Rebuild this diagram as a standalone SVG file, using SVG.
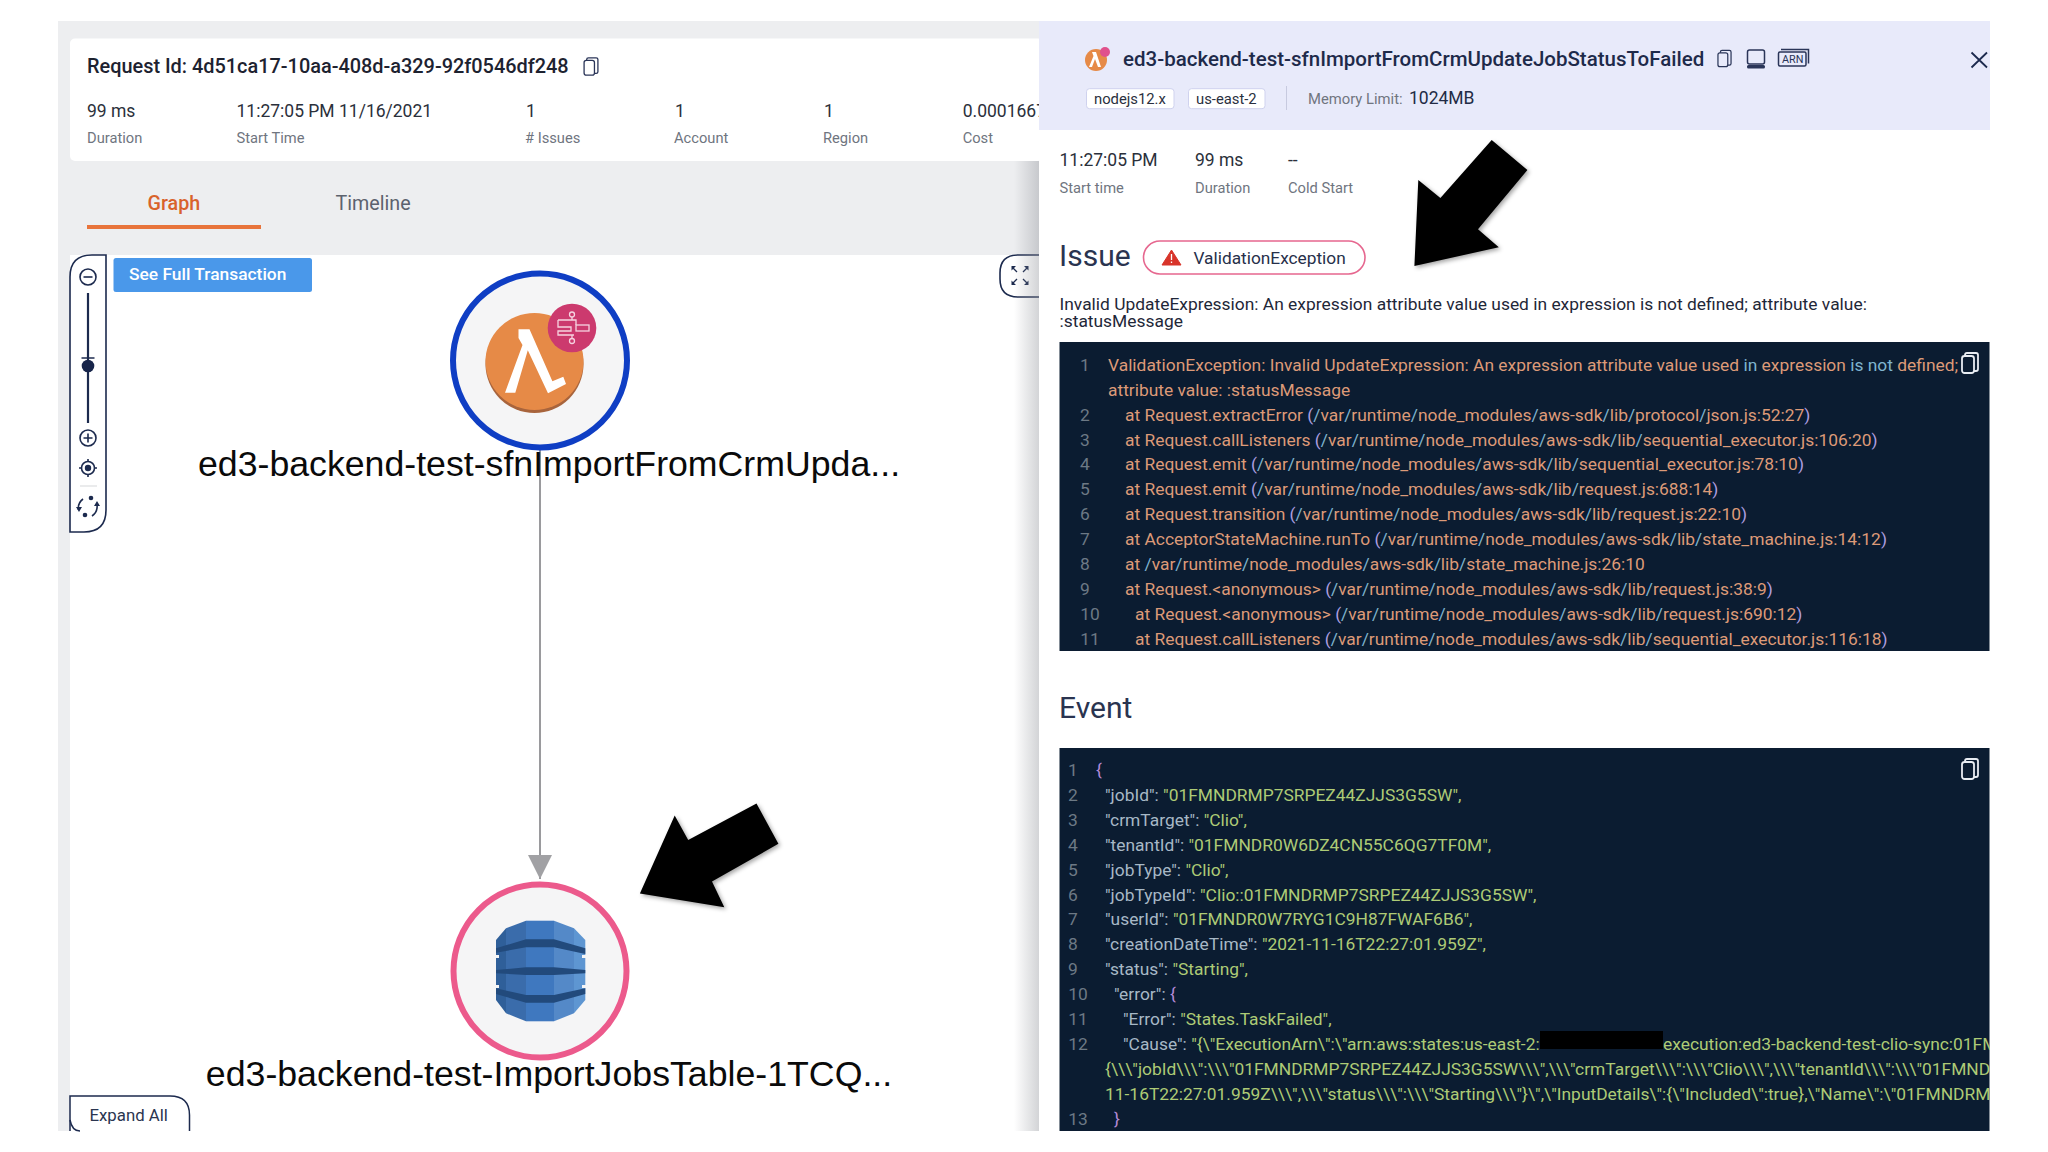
<svg xmlns="http://www.w3.org/2000/svg" width="2048" height="1152" viewBox="0 0 2048 1152">
<defs>
<style>
text{font-family:"Roboto","Liberation Sans",sans-serif;white-space:pre}
.lbl{font-size:14.700px;fill:#6f7580}
.val{font-size:17.500px;fill:#2b303b}
.big{font-family:"Liberation Sans",Arial,sans-serif;font-size:35.700px;fill:#0a0a0a;text-anchor:middle}
.h{font-size:30px;fill:#2a3450}
.ic{fill:none;stroke:#2a3558;stroke-width:1.500}
.ln{font-size:17.400px;fill:#6d7985}
.o{font-size:17.400px;fill:#dd9a78}
.t{fill:#7fb4cf}
.b{fill:#ae9fe0}
.k{font-size:17.400px;fill:#a7b8c6}
.g{fill:#aecb76}
.gl{font-size:17.400px;fill:#aecb76}
.p{font-size:17.400px;fill:#b48ad8}
.cp{fill:none;stroke:#e8ecf2;stroke-width:1.800}
.ctl{fill:none;stroke:#1c2a4e;stroke-width:1.600}
.dk{fill:#224a7c}
.nt{fill:#f5f5f6}
</style>
<linearGradient id="sh" x1="0" x2="1" y1="0" y2="0"><stop offset="0" stop-color="#8a8d94" stop-opacity="0"/><stop offset="1" stop-color="#8a8d94" stop-opacity=".38"/></linearGradient>
<filter id="ds" x="-20%" y="-20%" width="140%" height="140%"><feDropShadow dx="2" dy="2" stdDeviation="2" flood-color="#000" flood-opacity=".35"/></filter>
<clipPath id="c1"><rect x="1060" y="342" width="930" height="309"/></clipPath>
<clipPath id="c2"><rect x="1060" y="748" width="930" height="383"/></clipPath>
<marker id="ah" markerUnits="userSpaceOnUse" markerWidth="24" markerHeight="24" refX="24" refY="12" orient="auto" viewBox="0 0 24 24"><path d="M0 0L24 12L0 24Z" fill="#a1a1a4"/></marker>
<symbol id="copy" viewBox="0 0 18 22" overflow="visible"><path d="M4 4V3Q4 1 6 1H15Q17 1 17 3V17Q17 19 15 19H13"/><rect x="1" y="4" width="12" height="17" rx="2.500"/></symbol>
</defs>
<rect width="2048" height="1152" fill="#fff"/>
<g id="left-panel">
<rect x="58" y="21" width="985" height="1110" fill="#edeef0"/>
<rect x="70" y="38.500" width="973" height="122.500" rx="5" fill="#fff"/>
<rect x="70" y="255" width="973" height="876" fill="#fff"/>
<text x="87" y="73" font-size="19.900" font-weight="500" fill="#1d2230">Request Id: 4d51ca17-10aa-408d-a329-92f0546df248</text>
<g transform="translate(583 57)" class="ic"><use href="#copy" width="16" height="19"/></g>
<text class="val" x="87" y="116.500">99 ms</text><text class="val" x="236.500" y="116.500">11:27:05 PM 11/16/2021</text>
<text class="val" x="526" y="116.500">1</text><text class="val" x="675" y="116.500">1</text><text class="val" x="824" y="116.500">1</text><text class="val" x="962.700" y="116.500">0.0001667</text>
<text class="lbl" x="87" y="143">Duration</text><text class="lbl" x="236.500" y="143">Start Time</text><text class="lbl" x="525" y="143"># Issues</text><text class="lbl" x="674" y="143">Account</text><text class="lbl" x="823" y="143">Region</text><text class="lbl" x="962.700" y="143">Cost</text>
<text x="147.500" y="210" font-size="19.700" font-weight="500" fill="#d9622b">Graph</text>
<text x="335.500" y="210" font-size="19.700" fill="#5c626e">Timeline</text>
<rect x="87" y="225" width="174" height="4" fill="#e8743b"/>
</g>
<g id="controls">
<path d="M70 532V277Q70 255 92 255H106V510Q106 532 84 532Z" fill="#fff" stroke="#1c2a4e" stroke-width="1.600"/>
<circle class="ctl" cx="88" cy="277" r="8"/><path class="ctl" d="M83.500 277H92.500"/>
<path d="M88 293V423" stroke="#1c2a4e" stroke-width="2.200"/>
<path d="M81.500 358H94.500" stroke="#1c2a4e" stroke-width="1.500"/><circle cx="88" cy="366" r="6.300" fill="#17254a"/>
<circle class="ctl" cx="88" cy="438" r="8"/><path class="ctl" d="M83.500 438H92.500M88 433.500V442.500"/>
<circle class="ctl" cx="88" cy="468" r="6.500"/><circle cx="88" cy="468" r="3.200" fill="#1c2a4e"/><path class="ctl" d="M88 459V461M88 475V477M79 468H81M95 468H97"/>
<path d="M80 486H97" stroke="#e3e4e6" stroke-width="1.500"/>
<g fill="#1c2a4e"><circle cx="91" cy="498" r="2.300"/><circle cx="85" cy="515" r="2.300"/></g>
<path class="ctl" d="M78.500 510Q77.500 503 83 499M97 504Q98 512 92 516"/>
<path d="M76 507L82 507 79 512ZM94 506L100 506 97 501Z" fill="#1c2a4e"/>
</g>
<g id="see-full">
<rect x="113.500" y="258" width="198.500" height="34" rx="2.500" fill="#4a98ea"/>
<text x="129" y="279.500" font-size="17.400" font-weight="500" fill="#fff">See Full Transaction</text>
</g>
<g id="expand-box">
<path d="M1040 255H1018Q1000 255 1000 273V279Q1000 297 1018 297H1040" fill="#fff" stroke="#1c2a4e" stroke-width="1.600"/>
<path d="M1011.500 266H1016L1011.500 270.500ZM1028.500 266H1024L1028.500 270.500ZM1011.500 285H1016L1011.500 280.500ZM1028.500 285H1024L1028.500 280.500Z" fill="#1c2a4e"/>
<path d="M1013 268L1017 272M1027 268L1023 272M1013 283L1017 279M1027 283L1023 279" stroke="#1c2a4e" stroke-width="1.300"/>
</g>
<g id="connectors">
<path d="M540 450V879" fill="none" stroke="#9a9a9d" stroke-width="2" marker-end="url(#ah)"/>
</g>
<g id="node-lambda">
<circle cx="540" cy="360.500" r="87" fill="#f5f5f6" stroke="#0f3ec4" stroke-width="6"/>
<circle cx="534.500" cy="364" r="49" fill="#a8643c"/>
<ellipse cx="534.500" cy="361.500" rx="49" ry="48.500" fill="#e68a47"/>
<path d="M518.500 329.300H529.500L552.400 381.300 563.300 376.700 566 384 548 393.300 527.800 350.300 515.300 392.700H505L522.500 345 518.500 338Z" fill="#fff"/>
<circle cx="572" cy="328" r="24.300" fill="#cc3a6e"/>
<g fill="none" stroke="#f6d3e0" stroke-width="1.300"><circle cx="572" cy="314.500" r="2.500"/><circle cx="572" cy="341" r="2.500"/><path d="M572 317V320M572 338V335M558 320H576V325M558 320V327H571V331H558V335H574"/><rect x="576" y="325" width="13" height="6"/></g>
<text class="big" x="549" y="476">ed3-backend-test-sfnImportFromCrmUpda...</text>
</g>
<g id="node-dynamo">
<circle cx="540" cy="971" r="86.500" fill="#f5f5f6" stroke="#ec5a8c" stroke-width="6"/>
<polygon points="496,940 506,928.300 506,1013.300 496,1000" fill="#2f5f99"/>
<polygon points="506,928.300 526,920.700 526,1021.300 506,1013.300" fill="#3a6cab"/>
<rect x="526" y="920.700" width="28" height="100.600" fill="#3f78bf"/>
<polygon points="554,920.700 574,928.300 574,1013.300 554,1021.300" fill="#5489c8"/>
<polygon points="574,928.300 585.300,940 585.300,1000 574,1013.300" fill="#5e96d2"/>
<polygon class="dk" points="496,948.300 526,939.300 554,939.300 585.300,948.300 585.300,954 554,947.300 526,947.300 496,952.700"/>
<polygon class="dk" points="496,970 526,967.300 554,967.300 585.300,970 585.300,973.300 554,975 526,975 496,973.300"/>
<polygon class="dk" points="496,988.300 526,995 554,995 585.300,988.300 585.300,994 554,1002.700 526,1002.700 496,994"/>
<path class="nt" d="M495.500 955H499V958H495.500ZM495.500 985H499V988H495.500ZM582 955H586V958H582ZM582 985H586V988H582Z"/>
<text class="big" x="549" y="1086">ed3-backend-test-ImportJobsTable-1TCQ...</text>
</g>
<g id="expand-all">
<path d="M70 1131V1096H170Q189.500 1096 189.500 1115V1131" fill="#fff" stroke="#1c2a4e" stroke-width="1.500"/>
<path d="M70 1120Q72 1131 80 1131" fill="none" stroke="#1c2a4e" stroke-width="1.500"/>
<text x="89.500" y="1121" font-size="16.800" fill="#2a3550">Expand All</text>
</g>
<rect x="1014" y="161" width="25" height="970" fill="url(#sh)"/>
<polygon id="arrow-a" filter="url(#ds)" points="756.500,803.400 778.400,843.800 712,881.500 724.300,907.200 639.900,893.600 674.700,815.500 688.200,840" fill="#000"/>
<g id="right-panel">
<rect x="1039" y="21" width="951" height="1110" fill="#fff"/>
<rect x="1039" y="21" width="951" height="109" fill="#e8eafa"/>
<circle cx="1096" cy="60" r="11" fill="#e68a47"/><path d="M1092 52H1096L1101 67H1098L1095 59 1092 67H1089L1093.500 56Z" fill="#fff"/><circle cx="1105" cy="52" r="5" fill="#e0518c"/>
<text x="1123" y="65.500" font-size="20.500" font-weight="500" fill="#1e2a4a">ed3-backend-test-sfnImportFromCrmUpdateJobStatusToFailed</text>
<g transform="translate(1717 49.500)" class="ic"><use href="#copy" width="15" height="18"/></g>
<g class="ic"><rect x="1747.500" y="50" width="17" height="14" rx="2"/></g><rect x="1747" y="65" width="18" height="3.500" rx="1.500" fill="#2a3558"/>
<path class="ic" d="M1781 49.500H1808.500V63.500"/><rect class="ic" x="1778.500" y="52" width="27.500" height="14" rx="1.500"/>
<text x="1782" y="63" font-size="10.800" fill="#2a3558">ARN</text>
<path d="M1971.500 52.500L1987 67.500M1987 52.500L1971.500 67.500" stroke="#1c2a4e" stroke-width="1.800"/>
<rect x="1086.500" y="88.700" width="87.500" height="20" rx="3" fill="#fff" stroke="#cfd2ee"/><text x="1094" y="103.500" font-size="14.800" fill="#2a3040">nodejs12.x</text>
<rect x="1188.500" y="88.700" width="76.500" height="20" rx="3" fill="#fff" stroke="#cfd2ee"/><text x="1196" y="103.500" font-size="14.800" fill="#2a3040">us-east-2</text>
<path d="M1286.500 86V110" stroke="#c7cadf"/>
<text x="1308" y="103.500" font-size="14.800" fill="#70757f">Memory Limit:</text>
<text x="1409" y="104" font-size="17.500" fill="#222b45">1024MB</text>
<text class="val" x="1059.500" y="166">11:27:05 PM</text><text class="val" x="1195" y="166">99 ms</text><text class="val" x="1288" y="166">--</text>
<text class="lbl" x="1059.500" y="192.500">Start time</text><text class="lbl" x="1195" y="192.500">Duration</text><text class="lbl" x="1288" y="192.500">Cold Start</text>
<text class="h" x="1059" y="266">Issue</text>
<rect x="1143.500" y="241" width="221.500" height="33" rx="16.500" fill="#fff" stroke="#e6678f" stroke-width="1.600"/>
<path d="M1171.500 250L1181 265H1162Z" fill="#d8342a" stroke="#d8342a" stroke-linejoin="round"/><path d="M1171.500 254V260M1171.500 261.500V263" stroke="#fff" stroke-width="1.300"/>
<text x="1193.500" y="263.500" font-size="17.300" fill="#27304a">ValidationException</text>
<text x="1059.500" y="309.500" font-size="17.400" fill="#1f2738">Invalid UpdateExpression: An expression attribute value used in expression is not defined; attribute value:</text>
<text x="1059.500" y="326.500" font-size="17.400" fill="#1f2738">:statusMessage</text>
</g>
<polygon id="arrow-b" filter="url(#ds)" points="1491.700,140 1527.400,170 1478,229.300 1498.800,247.300 1414.400,266 1418.300,180 1440.400,198" fill="#000"/>
<g id="error-code">
<rect x="1059.500" y="342" width="930" height="309" fill="#0b1c31"/>
<g clip-path="url(#c1)">
<g class="ln" text-anchor="middle">
<text x="1085" y="370.800">1</text><text x="1085" y="420.600">2</text><text x="1085" y="445.500">3</text><text x="1085" y="470.400">4</text><text x="1085" y="495.300">5</text><text x="1085" y="520.200">6</text><text x="1085" y="545.100">7</text><text x="1085" y="570">8</text><text x="1085" y="594.900">9</text><text x="1090" y="619.800">10</text><text x="1090" y="644.700">11</text>
</g>
<text class="o" x="1108" y="370.800">ValidationException: Invalid UpdateExpression: An expression attribute value used <tspan class="t">in</tspan> expression <tspan class="t">is not</tspan> defined;</text>
<text class="o" x="1108" y="395.700">attribute value: :statusMessage</text>
<text class="o" x="1125" y="420.600">at Request.extractError <tspan class="b">(</tspan><tspan class="t">/</tspan>var<tspan class="t">/</tspan>runtime<tspan class="t">/</tspan>node_modules<tspan class="t">/</tspan>aws-sdk<tspan class="t">/</tspan>lib<tspan class="t">/</tspan>protocol<tspan class="t">/</tspan>json.js:52:27<tspan class="b">)</tspan></text>
<text class="o" x="1125" y="445.500">at Request.callListeners <tspan class="b">(</tspan><tspan class="t">/</tspan>var<tspan class="t">/</tspan>runtime<tspan class="t">/</tspan>node_modules<tspan class="t">/</tspan>aws-sdk<tspan class="t">/</tspan>lib<tspan class="t">/</tspan>sequential_executor.js:106:20<tspan class="b">)</tspan></text>
<text class="o" x="1125" y="470.400">at Request.emit <tspan class="b">(</tspan><tspan class="t">/</tspan>var<tspan class="t">/</tspan>runtime<tspan class="t">/</tspan>node_modules<tspan class="t">/</tspan>aws-sdk<tspan class="t">/</tspan>lib<tspan class="t">/</tspan>sequential_executor.js:78:10<tspan class="b">)</tspan></text>
<text class="o" x="1125" y="495.300">at Request.emit <tspan class="b">(</tspan><tspan class="t">/</tspan>var<tspan class="t">/</tspan>runtime<tspan class="t">/</tspan>node_modules<tspan class="t">/</tspan>aws-sdk<tspan class="t">/</tspan>lib<tspan class="t">/</tspan>request.js:688:14<tspan class="b">)</tspan></text>
<text class="o" x="1125" y="520.200">at Request.transition <tspan class="b">(</tspan><tspan class="t">/</tspan>var<tspan class="t">/</tspan>runtime<tspan class="t">/</tspan>node_modules<tspan class="t">/</tspan>aws-sdk<tspan class="t">/</tspan>lib<tspan class="t">/</tspan>request.js:22:10<tspan class="b">)</tspan></text>
<text class="o" x="1125" y="545.100">at AcceptorStateMachine.runTo <tspan class="b">(</tspan><tspan class="t">/</tspan>var<tspan class="t">/</tspan>runtime<tspan class="t">/</tspan>node_modules<tspan class="t">/</tspan>aws-sdk<tspan class="t">/</tspan>lib<tspan class="t">/</tspan>state_machine.js:14:12<tspan class="b">)</tspan></text>
<text class="o" x="1125" y="570">at <tspan class="t">/</tspan>var<tspan class="t">/</tspan>runtime<tspan class="t">/</tspan>node_modules<tspan class="t">/</tspan>aws-sdk<tspan class="t">/</tspan>lib<tspan class="t">/</tspan>state_machine.js:26:10</text>
<text class="o" x="1125" y="594.900">at Request.&lt;anonymous&gt; <tspan class="b">(</tspan><tspan class="t">/</tspan>var<tspan class="t">/</tspan>runtime<tspan class="t">/</tspan>node_modules<tspan class="t">/</tspan>aws-sdk<tspan class="t">/</tspan>lib<tspan class="t">/</tspan>request.js:38:9<tspan class="b">)</tspan></text>
<text class="o" x="1135" y="619.800">at Request.&lt;anonymous&gt; <tspan class="b">(</tspan><tspan class="t">/</tspan>var<tspan class="t">/</tspan>runtime<tspan class="t">/</tspan>node_modules<tspan class="t">/</tspan>aws-sdk<tspan class="t">/</tspan>lib<tspan class="t">/</tspan>request.js:690:12<tspan class="b">)</tspan></text>
<text class="o" x="1135" y="644.700">at Request.callListeners <tspan class="b">(</tspan><tspan class="t">/</tspan>var<tspan class="t">/</tspan>runtime<tspan class="t">/</tspan>node_modules<tspan class="t">/</tspan>aws-sdk<tspan class="t">/</tspan>lib<tspan class="t">/</tspan>sequential_executor.js:116:18<tspan class="b">)</tspan></text>
</g>
<g transform="translate(1960 352)" class="cp"><use href="#copy" width="20" height="22"/></g>
</g>
<text class="h" id="event-title" x="1059" y="718">Event</text>
<g id="event-code">
<rect x="1059.500" y="748" width="930" height="383" fill="#0b1c31"/>
<g clip-path="url(#c2)">
<g class="ln" text-anchor="middle">
<text x="1073" y="776">1</text><text x="1073" y="800.900">2</text><text x="1073" y="825.800">3</text><text x="1073" y="850.700">4</text><text x="1073" y="875.600">5</text><text x="1073" y="900.500">6</text><text x="1073" y="925.400">7</text><text x="1073" y="950.300">8</text><text x="1073" y="975.200">9</text><text x="1078" y="1000.100">10</text><text x="1078" y="1025">11</text><text x="1078" y="1049.900">12</text><text x="1078" y="1124.600">13</text>
</g>
<text class="p" x="1096" y="776">{</text>
<text class="k" x="1105" y="800.900">"jobId": <tspan class="g">"01FMNDRMP7SRPEZ44ZJJS3G5SW",</tspan></text>
<text class="k" x="1105" y="825.800">"crmTarget": <tspan class="g">"Clio",</tspan></text>
<text class="k" x="1105" y="850.700">"tenantId": <tspan class="g">"01FMNDR0W6DZ4CN55C6QG7TF0M",</tspan></text>
<text class="k" x="1105" y="875.600">"jobType": <tspan class="g">"Clio",</tspan></text>
<text class="k" x="1105" y="900.500">"jobTypeId": <tspan class="g">"Clio::01FMNDRMP7SRPEZ44ZJJS3G5SW",</tspan></text>
<text class="k" x="1105" y="925.400">"userId": <tspan class="g">"01FMNDR0W7RYG1C9H87FWAF6B6",</tspan></text>
<text class="k" x="1105" y="950.300">"creationDateTime": <tspan class="g">"2021-11-16T22:27:01.959Z",</tspan></text>
<text class="k" x="1105" y="975.200">"status": <tspan class="g">"Starting",</tspan></text>
<text class="k" x="1114" y="1000.100">"error": <tspan fill="#b48ad8">{</tspan></text>
<text class="k" x="1123" y="1025">"Error": <tspan class="g">"States.TaskFailed",</tspan></text>
<text class="k" x="1123" y="1049.900">"Cause": <tspan class="g">"{\"ExecutionArn\":\"arn:aws:states:us-east-2:</tspan></text>
<rect x="1540" y="1031" width="123" height="18" fill="#000"/>
<text class="gl" x="1663" y="1049.900">execution:ed3-backend-test-clio-sync:01FM</text>
<text class="gl" x="1105" y="1074.800">{\\\"jobId\\\":\\\"01FMNDRMP7SRPEZ44ZJJS3G5SW\\\",\\\"crmTarget\\\":\\\"Clio\\\",\\\"tenantId\\\":\\\"01FMND</text>
<text class="gl" x="1105" y="1099.700">11-16T22:27:01.959Z\\\",\\\"status\\\":\\\"Starting\\\"}\",\"InputDetails\":{\"Included\":true},\"Name\":\"01FMNDRM</text>
<text class="p" x="1114" y="1124.600">}</text>
</g>
<g transform="translate(1960 758)" class="cp"><use href="#copy" width="20" height="22"/></g>
</g>
</svg>
